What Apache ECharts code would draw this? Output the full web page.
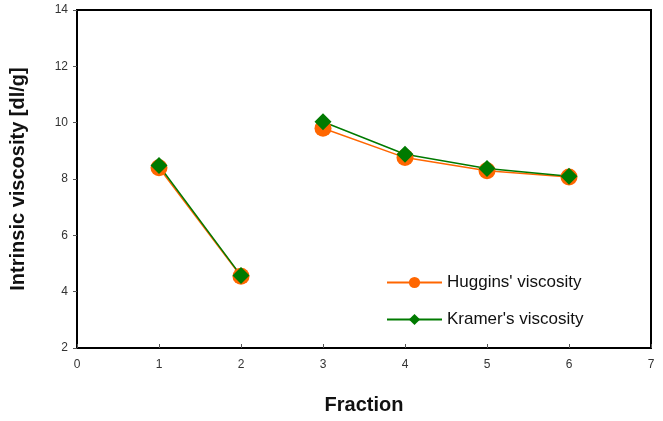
<!DOCTYPE html>
<html>
<head>
<meta charset="utf-8">
<script src="https://cdn.jsdelivr.net/npm/echarts@6/dist/echarts.min.js"></script>
<style>
    html, body { margin: 0; padding: 0; background: #fff; }
    #myChart { width: 663px; height: 421px; }
</style>
</head>
<body>
<div id="myChart"></div>
<script>
    // data
    var fractions = [1, 2, 3, 4, 5, 6];
    var huggins = [8.40, 4.55, 9.80, 8.76, 8.29, 8.07];
    var kramer = [8.48, 4.57, 10.03, 8.88, 8.37, 8.10];
    var breakAfter = 2; // no line between fraction 2 and 3
    var xTicks = [0, 1, 2, 3, 4, 5, 6, 7];
    var yTicks = [2, 4, 6, 8, 10, 12, 14];

    function toPoints(vals) {
        var out = [];
        for (var i = 0; i < fractions.length; i++) {
            out.push([fractions[i], vals[i]]);
            if (fractions[i] === breakAfter) out.push('-');
        }
        return out;
    }

    var myChart = echarts.init(document.getElementById('myChart'));
    var option = {
        animation: false,
        textStyle: {fontFamily: 'Liberation Sans, Arial, sans-serif'},
        grid: {
            left: 77, top: 10, right: 12, bottom: 73,
            show: true, borderColor: '#000', borderWidth: 2
        },
        legend: {
            orient: 'vertical',
            left: 381, top: 269,
            itemWidth: 55, itemHeight: 14, itemGap: 20,
            textStyle: {fontSize: 17, color: '#111'},
            data: ["Huggins' viscosity", "Kramer's viscosity"]
        },
        xAxis: {
            type: 'value',
            min: xTicks[0], max: xTicks[xTicks.length - 1], interval: 1,
            name: 'Fraction', nameLocation: 'middle', nameGap: 47,
            nameTextStyle: {fontSize: 20, fontWeight: 'bold', color: '#111'},
            axisLine: {lineStyle: {color: '#000', width: 2}},
            axisTick: {inside: true, length: 4, lineStyle: {color: '#555'}},
            axisLabel: {fontSize: 12, color: '#333', margin: 11},
            splitLine: {show: false}
        },
        yAxis: {
            type: 'value',
            min: yTicks[0], max: yTicks[yTicks.length - 1], interval: 2,
            name: 'Intrinsic viscosity [dl/g]', nameLocation: 'middle', nameGap: 49,
            nameTextStyle: {fontSize: 20, fontWeight: 'bold', color: '#111'},
            axisLine: {lineStyle: {color: '#000', width: 2}},
            axisTick: {length: 4, lineStyle: {color: '#555'}},
            axisLabel: {fontSize: 12, color: '#333', margin: 9},
            splitLine: {show: false}
        },
        series: [
            {
                name: "Huggins' viscosity",
                type: 'line',
                data: toPoints(huggins),
                symbol: 'circle', symbolSize: 17,
                lineStyle: {color: '#ff6600', width: 1.5},
                itemStyle: {color: '#ff6600'},
                connectNulls: false
            },
            {
                name: "Kramer's viscosity",
                type: 'line',
                data: toPoints(kramer),
                symbol: 'diamond', symbolSize: 17,
                lineStyle: {color: '#007a00', width: 1.5},
                itemStyle: {color: '#007a00'},
                connectNulls: false
            }
        ]
    };
    myChart.setOption(option);
</script>
</body>
</html>
